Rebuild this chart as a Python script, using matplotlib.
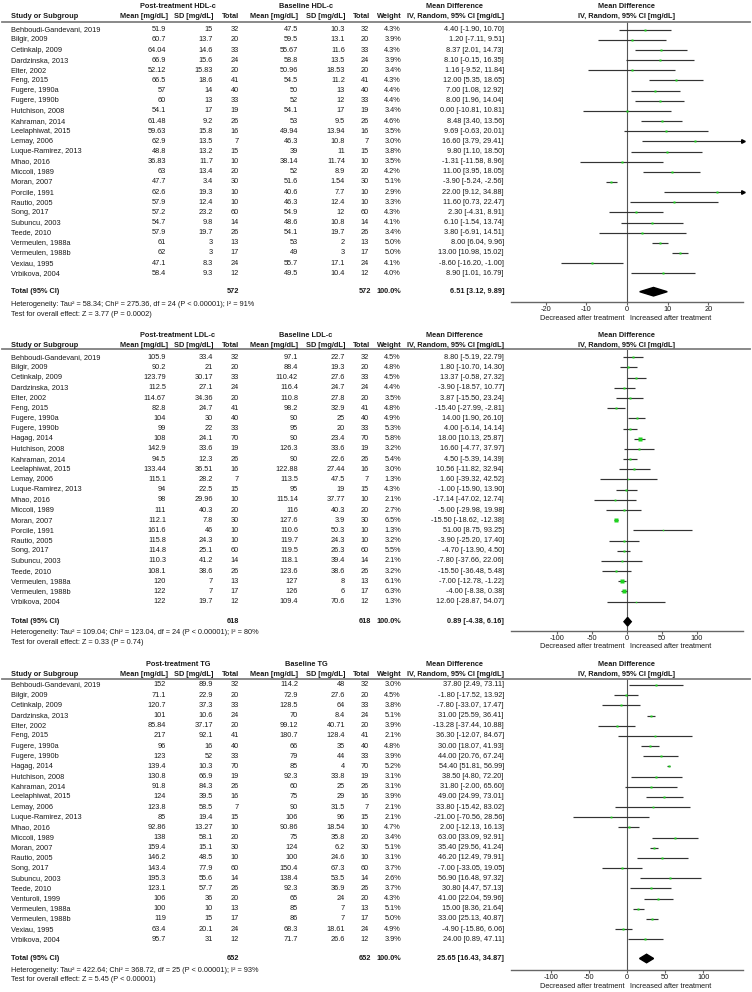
import matplotlib
matplotlib.use("Agg")
import matplotlib.pyplot as plt
import matplotlib.transforms as mtransforms
from matplotlib.lines import Line2D
from matplotlib.patches import Polygon
import numpy as np

plt.rcParams['font.family'] = ['Liberation Sans', 'DejaVu Sans']

# ---------------- HDL-c data ----------------
hdl_studies = ["Behboudi-Gandevani, 2019", "Bilgir, 2009", "Cetinkalp, 2009", "Dardzinska, 2013",
               "Elter, 2002", "Feng, 2015", "Fugere, 1990a", "Fugere, 1990b", "Hutchison, 2008",
               "Kahraman, 2014", "Leelaphiwat, 2015", "Lemay, 2006", "Luque-Ramirez, 2013",
               "Mhao, 2016", "Miccoli, 1989", "Moran, 2007", "Porcile, 1991", "Rautio, 2005",
               "Song, 2017", "Subuncu, 2003", "Teede, 2010", "Vermeulen, 1988a", "Vermeulen, 1988b",
               "Vexiau, 1995", "Vrbikova, 2004"]
hdl_post_mean = [51.9, 60.7, 64.04, 66.9, 52.12, 66.5, 57, 60, 54.1, 61.48, 59.63, 62.9, 48.8,
                 36.83, 63, 47.7, 62.6, 57.9, 57.2, 54.7, 57.9, 61, 62, 47.1, 58.4]
hdl_post_sd = [15, 13.7, 14.6, 15.6, 15.83, 18.6, 14, 13, 17, 9.2, 15.8, 13.5, 13.2,
               11.7, 13.4, 3.4, 19.3, 12.4, 23.2, 9.8, 19.7, 3, 3, 8.3, 9.3]
hdl_n = [32, 20, 33, 24, 20, 41, 40, 33, 19, 26, 16, 7, 15, 10, 20, 30, 10, 10, 60, 14, 26, 13, 17, 24, 12]
hdl_base_mean = [47.5, 59.5, 55.67, 58.8, 50.96, 54.5, 50, 52, 54.1, 53, 49.94, 46.3, 39,
                 38.14, 52, 51.6, 40.6, 46.3, 54.9, 48.6, 54.1, 53, 49, 55.7, 49.5]
hdl_base_sd = [10.3, 13.1, 11.6, 13.5, 18.53, 11.2, 13, 12, 17, 9.5, 13.94, 10.8, 11,
               11.74, 8.9, 1.54, 7.7, 12.4, 12, 10.8, 19.7, 2, 3, 17.1, 10.4]
hdl_weight = [4.3, 3.9, 4.3, 3.9, 3.4, 4.3, 4.4, 4.4, 3.4, 4.6, 3.5, 3.0, 3.8,
              3.5, 4.2, 5.1, 2.9, 3.3, 4.3, 4.1, 3.4, 5.0, 5.0, 4.1, 4.0]
hdl_md = [4.40, 1.20, 8.37, 8.10, 1.16, 12.00, 7.00, 8.00, 0.00, 8.48, 9.69, 16.60, 9.80,
          -1.31, 11.00, -3.90, 22.00, 11.60, 2.30, 6.10, 3.80, 8.00, 13.00, -8.60, 8.90]
hdl_lo = [-1.90, -7.11, 2.01, -0.15, -9.52, 5.35, 1.08, 1.96, -10.81, 3.40, -0.63, 3.79, 1.10,
          -11.58, 3.95, -5.24, 9.12, 0.73, -4.31, -1.54, -6.91, 6.04, 10.98, -16.20, 1.01]
hdl_hi = [10.70, 9.51, 14.73, 16.35, 11.84, 18.65, 12.92, 14.04, 10.81, 13.56, 20.01, 29.41, 18.50,
          8.96, 18.05, -2.56, 34.88, 22.47, 8.91, 13.74, 14.51, 9.96, 15.02, -1.00, 16.79]
hdl_total = [572, 572, 6.51, 3.12, 9.89]
hdl_het = "Heterogeneity: Tau² = 58.34; Chi² = 275.36, df = 24 (P < 0.00001); I² = 91%"
hdl_test = "Test for overall effect: Z = 3.77 (P = 0.0002)"

# ---------------- LDL-c data ----------------
ldl_studies = ["Behboudi-Gandevani, 2019", "Bilgir, 2009", "Cetinkalp, 2009", "Dardzinska, 2013",
               "Elter, 2002", "Feng, 2015", "Fugere, 1990a", "Fugere, 1990b", "Hagag, 2014",
               "Hutchison, 2008", "Kahraman, 2014", "Leelaphiwat, 2015", "Lemay, 2006",
               "Luque-Ramirez, 2013", "Mhao, 2016", "Miccoli, 1989", "Moran, 2007", "Porcile, 1991",
               "Rautio, 2005", "Song, 2017", "Subuncu, 2003", "Teede, 2010", "Vermeulen, 1988a",
               "Vermeulen, 1988b", "Vrbikova, 2004"]
ldl_post_mean = [105.9, 90.2, 123.79, 112.5, 114.67, 82.8, 104, 99, 108, 142.9, 94.5, 133.44, 115.1,
                 94, 98, 111, 112.1, 161.6, 115.8, 114.8, 110.3, 108.1, 120, 122, 122]
ldl_post_sd = [33.4, 21, 30.17, 27.1, 34.36, 24.7, 30, 22, 24.1, 33.6, 12.3, 36.51, 28.2,
               22.5, 29.96, 40.3, 7.8, 46, 24.3, 25.1, 41.2, 38.6, 7, 7, 19.7]
ldl_n = [32, 20, 33, 24, 20, 41, 40, 33, 70, 19, 26, 16, 7, 15, 10, 20, 30, 10, 10, 60, 14, 26, 13, 17, 12]
ldl_base_mean = [97.1, 88.4, 110.42, 116.4, 110.8, 98.2, 90, 95, 90, 126.3, 90, 122.88, 113.5,
                 95, 115.14, 116, 127.6, 110.6, 119.7, 119.5, 118.1, 123.6, 127, 126, 109.4]
ldl_base_sd = [22.7, 19.3, 27.6, 24.7, 27.8, 32.9, 25, 20, 23.4, 33.6, 22.6, 27.44, 47.5,
               19, 37.77, 40.3, 3.9, 50.3, 24.3, 26.3, 39.4, 38.6, 8, 6, 70.6]
ldl_weight = [4.5, 4.8, 4.5, 4.4, 3.5, 4.8, 4.9, 5.3, 5.8, 3.2, 5.4, 3.0, 1.3,
              4.3, 2.1, 2.7, 6.5, 1.3, 3.2, 5.5, 2.1, 3.2, 6.1, 6.3, 1.3]
ldl_md = [8.80, 1.80, 13.37, -3.90, 3.87, -15.40, 14.00, 4.00, 18.00, 16.60, 4.50, 10.56, 1.60,
          -1.00, -17.14, -5.00, -15.50, 51.00, -3.90, -4.70, -7.80, -15.50, -7.00, -4.00, 12.60]
ldl_lo = [-5.19, -10.70, -0.58, -18.57, -15.50, -27.99, 1.90, -6.14, 10.13, -4.77, -5.39, -11.82, -39.32,
          -15.90, -47.02, -29.98, -18.62, 8.75, -25.20, -13.90, -37.66, -36.48, -12.78, -8.38, -28.87]
ldl_hi = [22.79, 14.30, 27.32, 10.77, 23.24, -2.81, 26.10, 14.14, 25.87, 37.97, 14.39, 32.94, 42.52,
          13.90, 12.74, 19.98, -12.38, 93.25, 17.40, 4.50, 22.06, 5.48, -1.22, 0.38, 54.07]
ldl_total = [618, 618, 0.89, -4.38, 6.16]
ldl_het = "Heterogeneity: Tau² = 109.04; Chi² = 123.04, df = 24 (P < 0.00001); I² = 80%"
ldl_test = "Test for overall effect: Z = 0.33 (P = 0.74)"

# ---------------- TG data ----------------
tg_studies = ["Behboudi-Gandevani, 2019", "Bilgir, 2009", "Cetinkalp, 2009", "Dardzinska, 2013",
              "Elter, 2002", "Feng, 2015", "Fugere, 1990a", "Fugere, 1990b", "Hagag, 2014",
              "Hutchison, 2008", "Kahraman, 2014", "Leelaphiwat, 2015", "Lemay, 2006",
              "Luque-Ramirez, 2013", "Mhao, 2016", "Miccoli, 1989", "Moran, 2007", "Rautio, 2005",
              "Song, 2017", "Subuncu, 2003", "Teede, 2010", "Venturoli, 1999", "Vermeulen, 1988a",
              "Vermeulen, 1988b", "Vexiau, 1995", "Vrbikova, 2004"]
tg_post_mean = [152, 71.1, 120.7, 101, 85.84, 217, 96, 123, 139.4, 130.8, 91.8, 124, 123.8,
                85, 92.86, 138, 159.4, 146.2, 143.4, 195.3, 123.1, 106, 100, 119, 63.4, 95.7]
tg_post_sd = [89.9, 22.9, 37.3, 10.6, 37.17, 92.1, 16, 52, 10.3, 66.9, 84.3, 39.5, 58.5,
              19.4, 13.27, 58.1, 15.1, 48.5, 77.9, 55.6, 57.7, 36, 10, 15, 20.1, 31]
tg_n = [32, 20, 33, 24, 20, 41, 40, 33, 70, 19, 26, 16, 7, 15, 10, 20, 30, 10, 60, 14, 26, 20, 13, 17, 24, 12]
tg_base_mean = [114.2, 72.9, 128.5, 70, 99.12, 180.7, 66, 79, 85, 92.3, 60, 75, 90,
                106, 90.86, 75, 124, 100, 150.4, 138.4, 92.3, 65, 85, 86, 68.3, 71.7]
tg_base_sd = [48, 27.6, 64, 8.4, 40.71, 128.4, 35, 44, 4, 33.8, 25, 29, 31.5,
              96, 18.54, 35.8, 6.2, 24.6, 67.3, 53.5, 36.9, 24, 7, 7, 18.61, 26.6]
tg_weight = [3.0, 4.5, 3.8, 5.1, 3.9, 2.1, 4.8, 3.9, 5.2, 3.1, 3.1, 3.9, 2.1,
             2.1, 4.7, 3.4, 5.1, 3.1, 3.7, 2.6, 3.7, 4.3, 5.1, 5.0, 4.9, 3.9]
tg_md = [37.80, -1.80, -7.80, 31.00, -13.28, 36.30, 30.00, 44.00, 54.40, 38.50, 31.80, 49.00, 33.80,
         -21.00, 2.00, 63.00, 35.40, 46.20, -7.00, 56.90, 30.80, 41.00, 15.00, 33.00, -4.90, 24.00]
tg_lo = [2.49, -17.52, -33.07, 25.59, -37.44, -12.07, 18.07, 20.76, 51.81, 4.80, -2.00, 24.99, -15.42,
         -70.56, -12.13, 33.09, 29.56, 12.49, -33.05, 16.48, 4.47, 22.04, 8.36, 25.13, -15.86, 0.89]
tg_hi = [73.11, 13.92, 17.47, 36.41, 10.88, 84.67, 41.93, 67.24, 56.99, 72.20, 65.60, 73.01, 83.02,
         28.56, 16.13, 92.91, 41.24, 79.91, 19.05, 97.32, 57.13, 59.96, 21.64, 40.87, 6.06, 47.11]
tg_total = [652, 652, 25.65, 16.43, 34.87]
tg_het = "Heterogeneity: Tau² = 422.64; Chi² = 368.72, df = 25 (P < 0.00001); I² = 93%"
tg_test = "Test for overall effect: Z = 5.45 (P < 0.00001)"

# ---------------- layout (pixels) ----------------
W, H = 752, 992
FS = 5.3
TXT = '#1a1a1a'
LINE = '#333333'
GREEN = '#1ed41e'

# column right edges
COL_NAME = 11
COL_PM, COL_PSD, COL_PN = 166, 213, 239
COL_BM, COL_BSD, COL_BN = 298, 345, 369
COL_W, COL_CI = 401, 504
AX_L, AX_R = 511, 743

panels = [
    dict(label="HDL-c", studies=hdl_studies, pm=hdl_post_mean, psd=hdl_post_sd, n=hdl_n,
         bm=hdl_base_mean, bsd=hdl_base_sd, w=hdl_weight, md=hdl_md, lo=hdl_lo, hi=hdl_hi,
         total=hdl_total, het=hdl_het, test=hdl_test, lim=28.5, ticks=[-20, -10, 0, 10, 20],
         hdr1=7, hdr2=17, line=21.5, row0=29.7, step=10.15, tot=291.7, hetp=304, testp=314.5, axis=302),
    dict(label="LDL-c", studies=ldl_studies, pm=ldl_post_mean, psd=ldl_post_sd, n=ldl_n,
         bm=ldl_base_mean, bsd=ldl_base_sd, w=ldl_weight, md=ldl_md, lo=ldl_lo, hi=ldl_hi,
         total=ldl_total, het=ldl_het, test=ldl_test, lim=166, ticks=[-100, -50, 0, 50, 100],
         hdr1=335.3, hdr2=345.3, line=349.5, row0=357.3, step=10.18, tot=621.7, hetp=632, testp=643, axis=630.5),
    dict(label="TG", studies=tg_studies, pm=tg_post_mean, psd=tg_post_sd, n=tg_n,
         bm=tg_base_mean, bsd=tg_base_sd, w=tg_weight, md=tg_md, lo=tg_lo, hi=tg_hi,
         total=tg_total, het=tg_het, test=tg_test, lim=152, ticks=[-100, -50, 0, 50, 100],
         hdr1=664, hdr2=674.3, line=678.5, row0=685, step=10.17, tot=958.5, hetp=970.5, testp=979.5, axis=970),
]

fig = plt.figure(figsize=(W / 100, H / 100), dpi=100)


def fmt(v):
    return f"{v:g}"


for p in panels:
    r = lambda px: (px - p['row0']) / p['step']
    ax = fig.add_axes([AX_L / W, 1 - p['axis'] / H, (AX_R - AX_L) / W, (p['axis'] - p['line']) / H])
    ax.set_xlim(-p['lim'], p['lim'])
    ax.set_ylim(r(p['axis']), r(p['line']))
    ax.set_facecolor('none')
    for s in ['top', 'left', 'right']:
        ax.spines[s].set_visible(False)
    ax.spines['bottom'].set_color('#666666')
    ax.spines['bottom'].set_linewidth(1.0)
    ax.set_yticks([])
    ax.set_xticks(p['ticks'])
    ax.set_xticklabels([str(t) for t in p['ticks']])
    ax.tick_params(axis='x', length=2.2, width=0.8, color='#666666', pad=1, labelsize=FS, labelcolor=TXT)
    ax.axvline(0, color='#555555', lw=0.8, zorder=1)

    trans = mtransforms.blended_transform_factory(fig.transFigure, ax.transData)

    def put(px, y, s, ha='right', bold=False):
        fig.text(px / W, y, s, transform=trans, ha=ha, va='center', fontsize=FS,
                 color=TXT, fontweight='bold' if bold else 'normal')

    # headers
    h1, h2 = r(p['hdr1']), r(p['hdr2'])
    put((117 + COL_PN) / 2, h1, "Post-treatment " + p['label'], ha='center', bold=True)
    put((243 + COL_BN) / 2, h1, "Baseline " + p['label'], ha='center', bold=True)
    put(455, h1, "Mean Difference", ha='center', bold=True)
    put(COL_NAME, h2, "Study or Subgroup", ha='left', bold=True)
    put(COL_PM + 2, h2, "Mean [mg/dL]", bold=True)
    put(COL_PSD, h2, "SD [mg/dL]", bold=True)
    put(COL_PN, h2, "Total", bold=True)
    put(COL_BM, h2, "Mean [mg/dL]", bold=True)
    put(COL_BSD, h2, "SD [mg/dL]", bold=True)
    put(COL_BN + 1, h2, "Total", bold=True)
    put(COL_W + 1, h2, "Weight", bold=True)
    put(COL_CI, h2, "IV, Random, 95% CI [mg/dL]", bold=True)
    ax.text(0, h1, "Mean Difference", ha='center', va='center', fontsize=FS, color=TXT,
            fontweight='bold', clip_on=False)
    ax.text(0, h2, "IV, Random, 95% CI [mg/dL]", ha='center', va='center', fontsize=FS, color=TXT,
            fontweight='bold', clip_on=False)
    fig.add_artist(Line2D([2 / W, 750 / W], [r(p['line'])] * 2, transform=trans,
                          color='#808080', lw=1.3))

    # study rows
    ys = np.arange(len(p['studies']))
    for i, y in enumerate(ys):
        put(COL_NAME, y, p['studies'][i], ha='left')
        put(COL_PM, y, fmt(p['pm'][i]))
        put(COL_PSD, y, fmt(p['psd'][i]))
        put(COL_PN, y, str(p['n'][i]))
        put(COL_BM, y, fmt(p['bm'][i]))
        put(COL_BSD, y, fmt(p['bsd'][i]))
        put(COL_BN, y, str(p['n'][i]))
        put(COL_W, y, f"{p['w'][i]:.1f}%")
        put(COL_CI, y, f"{p['md'][i]:.2f} [{p['lo'][i]:.2f}, {p['hi'][i]:.2f}]")

        lo = max(p['lo'][i], -p['lim'])
        hi = min(p['hi'][i], p['lim'])
        ax.plot([lo, hi], [y, y], color=LINE, lw=0.85, zorder=2, solid_capstyle='butt')
        if p['hi'][i] > p['lim']:
            ax.plot(p['lim'], y, marker='>', ms=2.6, color='black', clip_on=False, zorder=3)
        ax.plot(p['md'][i], y, marker='s', ms=0.9 * np.sqrt(p['w'][i]), color=GREEN,
                mec='none', zorder=4)

    # total row
    yt = r(p['tot'])
    tn1, tn2, tmd, tlo, thi = p['total']
    put(COL_NAME, yt, "Total (95% CI)", ha='left', bold=True)
    put(COL_PN, yt, str(tn1), bold=True)
    put(COL_BN + 2, yt, str(tn2), bold=True)
    put(COL_W, yt, "100.0%", bold=True)
    put(COL_CI, yt, f"{tmd:.2f} [{tlo:.2f}, {thi:.2f}]", bold=True)
    ax.add_patch(Polygon([[tlo, yt], [tmd, yt - 0.42], [thi, yt], [tmd, yt + 0.42]],
                         closed=True, color='black', zorder=5))
    put(COL_NAME, r(p['hetp']), p['het'], ha='left')
    put(COL_NAME, r(p['testp']), p['test'], ha='left')

    # direction labels
    ax.annotate("Decreased after treatment", xy=(0, 0), xycoords=('data', 'axes fraction'),
                xytext=(-2, -11.8), textcoords='offset points', ha='right', va='center',
                fontsize=FS, color=TXT)
    ax.annotate("Increased after treatment", xy=(0, 0), xycoords=('data', 'axes fraction'),
                xytext=(2, -11.8), textcoords='offset points', ha='left', va='center',
                fontsize=FS, color=TXT)

fig.savefig("out.png", dpi=100, facecolor='white')
